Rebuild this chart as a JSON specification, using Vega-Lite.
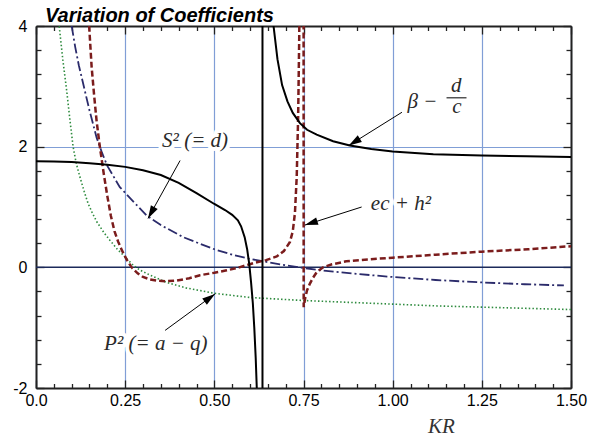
{
  "$schema": "https://vega.github.io/schema/vega-lite/v6.json",
  "width": 535,
  "height": 362,
  "autosize": "none",
  "padding": {"left": 36, "top": 26, "right": 37, "bottom": 48},
  "background": "white",
  "view": {"stroke": null},
  "config": {"font": "Liberation Sans"},
  "title": {"text": "Variation of Coefficients", "anchor": "start", "frame": "group", "font": "Liberation Sans", "fontSize": 20, "fontStyle": "italic", "fontWeight": "bold", "color": "black", "offset": 6, "dx": 9, "dy": 14},
  "datasets": {
    "curves": [
      {"s":"bd","x":0,"y":1.76},{"s":"bd","x":0.05,"y":1.755},{"s":"bd","x":0.1,"y":1.745},{"s":"bd","x":0.15,"y":1.725},{"s":"bd","x":0.2,"y":1.7},{"s":"bd","x":0.25,"y":1.665},{"s":"bd","x":0.3,"y":1.61},{"s":"bd","x":0.35,"y":1.53},{"s":"bd","x":0.4,"y":1.4},{"s":"bd","x":0.45,"y":1.23},{"s":"bd","x":0.5,"y":1.05},{"s":"bd","x":0.53,"y":0.95},{"s":"bd","x":0.55,"y":0.87},{"s":"bd","x":0.566,"y":0.78},{"s":"bd","x":0.575,"y":0.68},{"s":"bd","x":0.585,"y":0.5},{"s":"bd","x":0.592,"y":0.3},{"s":"bd","x":0.598,"y":0.05},{"s":"bd","x":0.603,"y":-0.25},{"s":"bd","x":0.608,"y":-0.6},{"s":"bd","x":0.612,"y":-1.0},{"s":"bd","x":0.616,"y":-1.5},{"s":"bd","x":0.619,"y":-2.0},{"s":"bd","x":0.624,"y":-3.0},{"s":"bd","x":0.628,"y":-5},{"s":"bd","x":0.632,"y":-12},{"s":"bd","x":0.6349,"y":-80},{"s":"bd","x":0.6351,"y":80},{"s":"bd","x":0.64,"y":16},{"s":"bd","x":0.647,"y":7.8},{"s":"bd","x":0.655,"y":5.3},{"s":"bd","x":0.664,"y":4.1},{"s":"bd","x":0.677,"y":3.45},{"s":"bd","x":0.69,"y":3.02},{"s":"bd","x":0.705,"y":2.75},{"s":"bd","x":0.72,"y":2.56},{"s":"bd","x":0.74,"y":2.39},{"s":"bd","x":0.76,"y":2.28},{"s":"bd","x":0.787,"y":2.2},{"s":"bd","x":0.833,"y":2.09},{"s":"bd","x":0.88,"y":2.02},{"s":"bd","x":0.94,"y":1.96},{"s":"bd","x":1.0,"y":1.92},{"s":"bd","x":1.114,"y":1.875},{"s":"bd","x":1.25,"y":1.855},{"s":"bd","x":1.375,"y":1.84},{"s":"bd","x":1.5,"y":1.83},
      {"s":"ech","x":0.145,"y":4.6},{"s":"ech","x":0.149,"y":4.0},{"s":"ech","x":0.156,"y":3.32},{"s":"ech","x":0.163,"y":2.85},{"s":"ech","x":0.17,"y":2.42},{"s":"ech","x":0.179,"y":2.0},{"s":"ech","x":0.19,"y":1.55},{"s":"ech","x":0.2,"y":1.18},{"s":"ech","x":0.21,"y":0.85},{"s":"ech","x":0.22,"y":0.6},{"s":"ech","x":0.23,"y":0.43},{"s":"ech","x":0.241,"y":0.28},{"s":"ech","x":0.255,"y":0.12},{"s":"ech","x":0.268,"y":0.0},{"s":"ech","x":0.285,"y":-0.1},{"s":"ech","x":0.3,"y":-0.16},{"s":"ech","x":0.32,"y":-0.2},{"s":"ech","x":0.338,"y":-0.22},{"s":"ech","x":0.365,"y":-0.23},{"s":"ech","x":0.395,"y":-0.22},{"s":"ech","x":0.43,"y":-0.18},{"s":"ech","x":0.46,"y":-0.13},{"s":"ech","x":0.5,"y":-0.09},{"s":"ech","x":0.535,"y":-0.05},{"s":"ech","x":0.57,"y":0.0},{"s":"ech","x":0.61,"y":0.07},{"s":"ech","x":0.645,"y":0.12},{"s":"ech","x":0.675,"y":0.18},{"s":"ech","x":0.695,"y":0.27},{"s":"ech","x":0.712,"y":0.42},{"s":"ech","x":0.72,"y":0.6},{"s":"ech","x":0.726,"y":0.9},{"s":"ech","x":0.731,"y":1.5},{"s":"ech","x":0.735,"y":2.5},{"s":"ech","x":0.738,"y":3.8},{"s":"ech","x":0.741,"y":6},{"s":"ech","x":0.745,"y":12},{"s":"ech","x":0.749,"y":30},{"s":"ech","x":0.7505,"y":-0.66},{"s":"ech","x":0.755,"y":-0.5},{"s":"ech","x":0.76,"y":-0.38},{"s":"ech","x":0.768,"y":-0.27},{"s":"ech","x":0.777,"y":-0.17},{"s":"ech","x":0.787,"y":-0.08},{"s":"ech","x":0.805,"y":0.0},{"s":"ech","x":0.83,"y":0.05},{"s":"ech","x":0.87,"y":0.1},{"s":"ech","x":0.93,"y":0.13},{"s":"ech","x":1.0,"y":0.16},{"s":"ech","x":1.12,"y":0.21},{"s":"ech","x":1.25,"y":0.26},{"s":"ech","x":1.38,"y":0.3},{"s":"ech","x":1.5,"y":0.35},
      {"s":"S2","x":0.096,"y":4.3},{"s":"S2","x":0.1,"y":4.0},{"s":"S2","x":0.11,"y":3.65},{"s":"S2","x":0.12,"y":3.35},{"s":"S2","x":0.132,"y":3.05},{"s":"S2","x":0.15,"y":2.6},{"s":"S2","x":0.17,"y":2.15},{"s":"S2","x":0.185,"y":1.9},{"s":"S2","x":0.2,"y":1.68},{"s":"S2","x":0.235,"y":1.33},{"s":"S2","x":0.273,"y":1.09},{"s":"S2","x":0.31,"y":0.86},{"s":"S2","x":0.35,"y":0.7},{"s":"S2","x":0.413,"y":0.5},{"s":"S2","x":0.46,"y":0.39},{"s":"S2","x":0.5,"y":0.3},{"s":"S2","x":0.55,"y":0.21},{"s":"S2","x":0.6,"y":0.14},{"s":"S2","x":0.684,"y":0.05},{"s":"S2","x":0.75,"y":-0.01},{"s":"S2","x":0.8,"y":-0.05},{"s":"S2","x":0.9,"y":-0.11},{"s":"S2","x":1.0,"y":-0.16},{"s":"S2","x":1.12,"y":-0.21},{"s":"S2","x":1.25,"y":-0.25},{"s":"S2","x":1.37,"y":-0.28},{"s":"S2","x":1.48,"y":-0.3},
      {"s":"P2","x":0.062,"y":4.3},{"s":"P2","x":0.065,"y":4.0},{"s":"P2","x":0.075,"y":3.45},{"s":"P2","x":0.086,"y":2.93},{"s":"P2","x":0.095,"y":2.45},{"s":"P2","x":0.104,"y":2.0},{"s":"P2","x":0.113,"y":1.72},{"s":"P2","x":0.123,"y":1.5},{"s":"P2","x":0.135,"y":1.26},{"s":"P2","x":0.146,"y":1.06},{"s":"P2","x":0.158,"y":0.9},{"s":"P2","x":0.17,"y":0.76},{"s":"P2","x":0.19,"y":0.58},{"s":"P2","x":0.207,"y":0.45},{"s":"P2","x":0.228,"y":0.3},{"s":"P2","x":0.25,"y":0.17},{"s":"P2","x":0.27,"y":0.05},{"s":"P2","x":0.29,"y":-0.04},{"s":"P2","x":0.32,"y":-0.13},{"s":"P2","x":0.366,"y":-0.25},{"s":"P2","x":0.42,"y":-0.34},{"s":"P2","x":0.5,"y":-0.43},{"s":"P2","x":0.6,"y":-0.5},{"s":"P2","x":0.75,"y":-0.55},{"s":"P2","x":0.875,"y":-0.58},{"s":"P2","x":1.0,"y":-0.61},{"s":"P2","x":1.125,"y":-0.64},{"s":"P2","x":1.25,"y":-0.66},{"s":"P2","x":1.375,"y":-0.68},{"s":"P2","x":1.5,"y":-0.7}
    ],
    "arrows": [
      {"k":"S2","tx":0.404,"ty":1.77,"hx":0.314,"hy":0.81},
      {"k":"bd","tx":1.026,"ty":2.57,"hx":0.877,"hy":2.02},
      {"k":"ech","tx":0.913,"ty":1.0,"hx":0.754,"hy":0.7},
      {"k":"P2","tx":0.362,"ty":-1.045,"hx":0.502,"hy":-0.44}
    ],
    "labels": [
      {"t":"S² (= d)","x":0.446,"y":1.99},
      {"t":"ec + h²","x":1.023,"y":0.945},
      {"t":"P² (= a − q)","x":0.336,"y":-1.376},
      {"t":"β −","x":1.0835,"y":2.64},
      {"t":"d","x":1.178,"y":2.91},
      {"t":"c","x":1.18,"y":2.55}
    ]
  },
  "layer": [
    {
      "data": {"values": [{"y": 0}]},
      "mark": {"type": "rule", "color": "#1c2a5a", "strokeWidth": 1.5},
      "encoding": {
        "y": {"field": "y", "type": "quantitative", "scale": {"domain": [-2, 4], "nice": false, "zero": false},
          "axis": {"orient": "left", "values": [-2,-1.6,-1.2,-0.8,-0.4,0,0.4,0.8,1.2,1.6,2,2.4,2.8,3.2,3.6,4],
            "labelExpr": "datum.value % 2 == 0 ? toString(datum.value) : ''",
            "labelFont": "Liberation Sans", "labelFontSize": 16, "labelColor": "black", "labelPadding": 17,
            "labelOverlap": false, "labelFlush": false, "labelBound": false,
            "tickSize": {"condition": {"test": "datum.value % 2 == 0", "value": -8}, "value": -5},
            "tickColor": "#222", "tickWidth": 1.3, "domainColor": "#222", "domainWidth": 2,
            "grid": true, "gridColor": "#809ed6", "gridWidth": 1.2,
            "gridOpacity": {"condition": {"test": "datum.value % 2 == 0", "value": 1}, "value": 0},
            "title": null}}
      }
    },
    {
      "data": {"name": "curves"},
      "transform": [{"filter": "datum.s == 'P2'"}],
      "mark": {"type": "line", "clip": true, "color": "#2e8b3e", "strokeWidth": 1.6, "strokeDash": [1.5, 2.2]},
      "encoding": {
        "x": {"field": "x", "type": "quantitative", "scale": {"domain": [0, 1.5], "nice": false, "zero": false},
          "axis": {"orient": "bottom", "values": [0,0.05,0.1,0.15,0.2,0.25,0.3,0.35,0.4,0.45,0.5,0.55,0.6,0.65,0.7,0.75,0.8,0.85,0.9,0.95,1,1.05,1.1,1.15,1.2,1.25,1.3,1.35,1.4,1.45,1.5],
            "labelExpr": "abs(datum.value*4 - round(datum.value*4)) < 1e-9 ? (datum.value == 0 ? '0.0' : format(datum.value, '.2f')) : ''",
            "labelFont": "Liberation Sans", "labelFontSize": 16, "labelColor": "black", "labelPadding": 12,
            "labelOverlap": false, "labelFlush": false, "labelBound": false,
            "tickSize": {"condition": {"test": "abs(datum.value*4 - round(datum.value*4)) < 1e-9", "value": -8}, "value": -4.5},
            "tickColor": "#222", "tickWidth": 1.3, "domainColor": "#222", "domainWidth": 2,
            "grid": true, "gridColor": "#809ed6", "gridWidth": 1.2,
            "gridOpacity": {"condition": {"test": "abs(datum.value*4 - round(datum.value*4)) < 1e-9", "value": 1}, "value": 0},
            "title": "KR", "titleFont": "Liberation Serif", "titleFontStyle": "italic", "titleFontWeight": "normal", "titleFontSize": 21, "titleColor": "#333",
            "titleX": 405, "titleY": 44, "titleBaseline": "alphabetic", "titleAlign": "center", "titleAngle": 0}},
        "y": {"field": "y", "type": "quantitative", "scale": {"domain": [-2, 4], "nice": false, "zero": false}, "axis": null}
      }
    },
    {
      "data": {"name": "curves"},
      "transform": [{"filter": "datum.s == 'S2'"}],
      "mark": {"type": "line", "clip": true, "color": "#2b2b6b", "strokeWidth": 1.8, "strokeDash": [10, 3, 2, 3]},
      "encoding": {
        "x": {"field": "x", "type": "quantitative", "scale": {"domain": [0, 1.5], "nice": false, "zero": false}, "axis": null},
        "y": {"field": "y", "type": "quantitative", "scale": {"domain": [-2, 4], "nice": false, "zero": false}, "axis": null}
      }
    },
    {
      "data": {"name": "curves"},
      "transform": [{"filter": "datum.s == 'ech'"}],
      "mark": {"type": "line", "clip": true, "color": "#7b1c1c", "strokeWidth": 2.5, "strokeDash": [6, 3]},
      "encoding": {
        "x": {"field": "x", "type": "quantitative", "scale": {"domain": [0, 1.5], "nice": false, "zero": false}, "axis": null},
        "y": {"field": "y", "type": "quantitative", "scale": {"domain": [-2, 4], "nice": false, "zero": false}, "axis": null}
      }
    },
    {
      "data": {"name": "curves"},
      "transform": [{"filter": "datum.s == 'bd'"}],
      "mark": {"type": "line", "clip": true, "color": "black", "strokeWidth": 2},
      "encoding": {
        "x": {"field": "x", "type": "quantitative", "scale": {"domain": [0, 1.5], "nice": false, "zero": false}, "axis": null},
        "y": {"field": "y", "type": "quantitative", "scale": {"domain": [-2, 4], "nice": false, "zero": false}, "axis": null}
      }
    },
    {
      "data": {"name": "labels"},
      "mark": {"type": "text", "font": "Liberation Serif", "fontStyle": "italic", "fontSize": 21, "align": "center", "baseline": "alphabetic", "stroke": "white", "strokeWidth": 8, "strokeJoin": "round", "fill": "white"},
      "encoding": {
        "x": {"field": "x", "type": "quantitative", "scale": {"domain": [0, 1.5], "nice": false, "zero": false}, "axis": null},
        "y": {"field": "y", "type": "quantitative", "scale": {"domain": [-2, 4], "nice": false, "zero": false}, "axis": null},
        "text": {"field": "t"}
      }
    },
    {
      "data": {"name": "arrows"},
      "mark": {"type": "rule", "color": "black", "strokeWidth": 1},
      "encoding": {
        "x": {"field": "tx", "type": "quantitative", "scale": {"domain": [0, 1.5], "nice": false, "zero": false}, "axis": null},
        "y": {"field": "ty", "type": "quantitative", "scale": {"domain": [-2, 4], "nice": false, "zero": false}, "axis": null},
        "x2": {"field": "hx"},
        "y2": {"field": "hy"}
      }
    },
    {
      "data": {"name": "arrows"},
      "mark": {"type": "point", "filled": true, "color": "black", "opacity": 1, "strokeWidth": 0, "size": 169,
        "shape": "M0,0 L0.6,2 L-0.6,2 Z",
        "angle": {"expr": "atan2(scale('x', datum.hx) - scale('x', datum.tx), scale('y', datum.ty) - scale('y', datum.hy)) * 180 / PI"}},
      "encoding": {
        "x": {"field": "hx", "type": "quantitative", "scale": {"domain": [0, 1.5], "nice": false, "zero": false},
          "axis": {"orient": "top", "values": [0,0.05,0.1,0.15,0.2,0.25,0.3,0.35,0.4,0.45,0.5,0.55,0.6,0.65,0.7,0.75,0.8,0.85,0.9,0.95,1,1.05,1.1,1.15,1.2,1.25,1.3,1.35,1.4,1.45,1.5],
            "labels": false, "grid": false, "title": null,
            "tickSize": {"condition": {"test": "abs(datum.value*4 - round(datum.value*4)) < 1e-9", "value": -8}, "value": -4.5},
            "tickColor": "#222", "tickWidth": 1.3, "domainColor": "#222", "domainWidth": 2}},
        "y": {"field": "hy", "type": "quantitative", "scale": {"domain": [-2, 4], "nice": false, "zero": false},
          "axis": {"orient": "right", "values": [-2,-1.6,-1.2,-0.8,-0.4,0,0.4,0.8,1.2,1.6,2,2.4,2.8,3.2,3.6,4],
            "labels": false, "grid": false, "title": null,
            "tickSize": {"condition": {"test": "datum.value % 2 == 0", "value": -8}, "value": -5},
            "tickColor": "#222", "tickWidth": 1.3, "domainColor": "#222", "domainWidth": 2}}
      }
    },
    {
      "data": {"name": "labels"},
      "mark": {"type": "text", "font": "Liberation Serif", "fontStyle": "italic", "fontSize": 21, "align": "center", "baseline": "alphabetic", "color": "#2a2a2a"},
      "encoding": {
        "x": {"field": "x", "type": "quantitative", "scale": {"domain": [0, 1.5], "nice": false, "zero": false}, "axis": null},
        "y": {"field": "y", "type": "quantitative", "scale": {"domain": [-2, 4], "nice": false, "zero": false}, "axis": null},
        "text": {"field": "t"}
      }
    },
    {
      "data": {"values": [{"x": 1.151, "x2": 1.207, "y": 2.81}]},
      "mark": {"type": "rule", "color": "#2a2a2a", "strokeWidth": 1.2},
      "encoding": {
        "x": {"field": "x", "type": "quantitative", "scale": {"domain": [0, 1.5], "nice": false, "zero": false}, "axis": null},
        "x2": {"field": "x2"},
        "y": {"field": "y", "type": "quantitative", "scale": {"domain": [-2, 4], "nice": false, "zero": false}, "axis": null}
      }
    }
  ],
  "resolve": {"axis": {"x": "independent", "y": "independent"}}
}
